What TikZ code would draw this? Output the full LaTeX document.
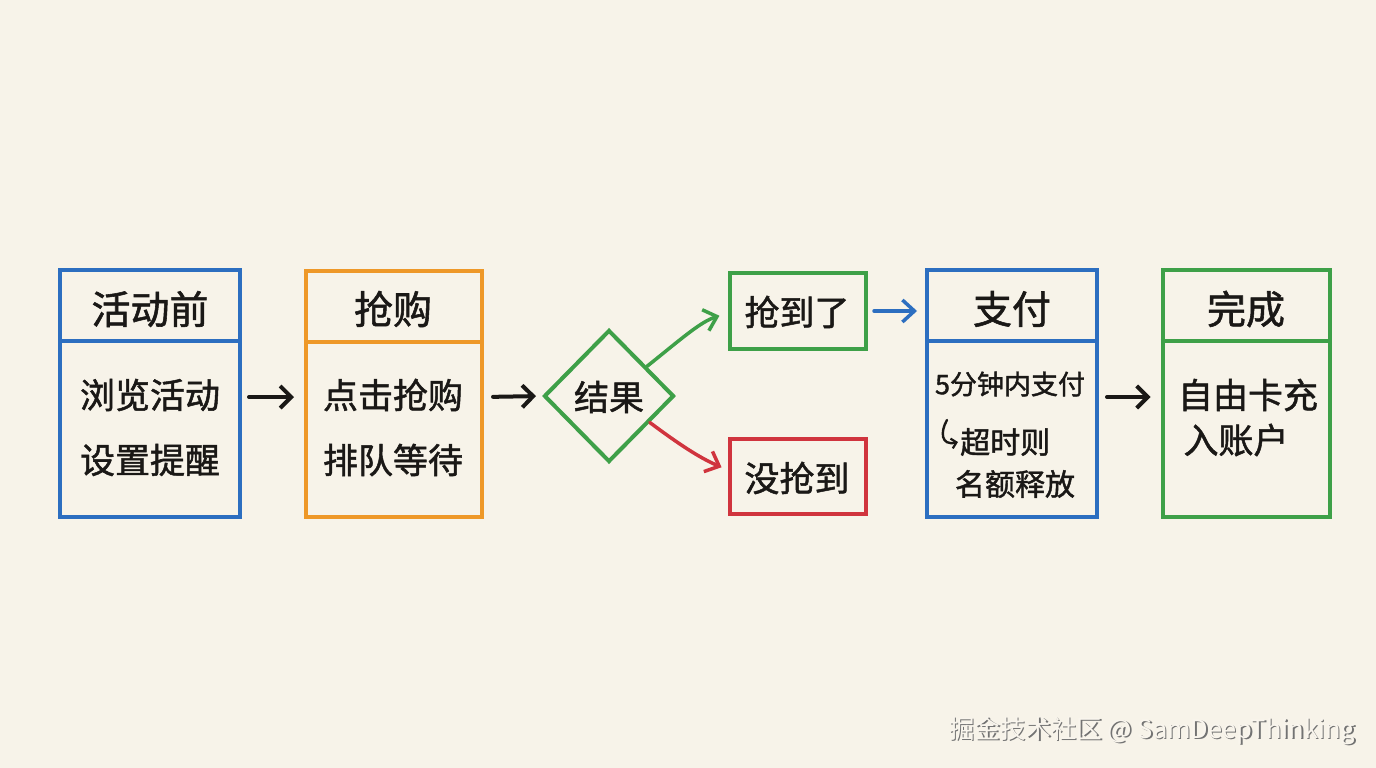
\documentclass[tikz,border=0pt]{standalone}
\usepackage{fontspec}
\setmainfont{Noto Sans CJK SC}
\newfontfamily\hand{Noto Sans CJK SC}[FakeBold=1.4]
\usetikzlibrary{shapes.geometric,arrows.meta}
\definecolor{bg}{RGB}{247,243,233}
\definecolor{cblue}{RGB}{44,110,192}
\definecolor{corange}{RGB}{238,152,40}
\definecolor{cgreen}{RGB}{62,160,72}
\definecolor{cred}{RGB}{208,52,62}
\definecolor{cink}{RGB}{26,24,22}
\tikzset{
  box/.style={draw=#1, line width=4pt, inner sep=0pt},
  divider/.style={draw=#1, line width=4pt},
  ttl/.style={text=cink, font=\hand\fontsize{39}{41}\selectfont, inner sep=0pt},
  body/.style={text=cink, font=\hand\fontsize{35}{37}\selectfont, inner sep=0pt},
  small/.style={text=cink, font=\hand\fontsize{30}{32}\selectfont, inner sep=0pt},
  flow/.style={draw=cink, line width=4pt, line cap=round, -{Straight Barb[length=11pt,width=22pt,line width=4pt]}},
  cflow/.style={draw=#1, line width=3.5pt, line cap=round, -{Straight Barb[length=12pt,width=22pt,line width=3.5pt]}},
}
\begin{document}
\begin{tikzpicture}[x=1pt,y=-1pt]
\fill[bg] (0,0) rectangle (1376,768);
\useasboundingbox (0,0) rectangle (1376,768);

% box 1
\node[box=cblue, minimum width=180pt, minimum height=247pt] (b1) at (150,393.5) {};
\draw[divider=cblue] (b1.west |- 0,341) -- (b1.east |- 0,341);
\node[ttl] (t1) at (150,309) {活动前};
\node[body] (p1a) at (150,395) {浏览活动};
\node[body] (p1b) at (150,460) {设置提醒};

% box 2
\node[box=corange, minimum width=176pt, minimum height=246pt] (b2) at (394,394) {};
\draw[divider=corange] (b2.west |- 0,342) -- (b2.east |- 0,342);
\node[ttl] (t2) at (393,309) {抢购};
\node[body] (p2a) at (393,395) {点击抢购};
\node[body] (p2b) at (393,460) {排队等待};

% decision
\node[diamond, draw=cgreen, line width=4pt, minimum width=130pt, minimum height=132pt, inner sep=0pt] (d) at (609,396) {};
\node[body] (dt) at (609,397) {结果};

% outcomes
\node[box=cgreen, minimum width=136pt, minimum height=76pt] (win) at (798,311) {};
\node[body] (wint) at (797,312) {抢到了};
\node[box=cred, minimum width=136pt, minimum height=75pt] (lose) at (798,476) {};
\node[body] (loset) at (797,478) {没抢到};

% box pay
\node[box=cblue, minimum width=170pt, minimum height=247pt] (b3) at (1012,393.5) {};
\draw[divider=cblue] (b3.west |- 0,341) -- (b3.east |- 0,341);
\node[ttl] (t3) at (1012,309) {支付};
\node[text=cink, font=\hand\fontsize{27}{29}\selectfont, inner sep=0pt] (p3a) at (1010,384) {5分钟内支付};
\node[small, anchor=west] (p3b) at (960,442) {超时则};
\node[small] (p3c) at (1015,484) {名额释放};
\coordinate (hk) at (947,420);
\draw[cink, line width=2.4pt, line cap=round, -{Straight Barb[length=5pt,width=10pt,line width=2.2pt]}]
  (hk) .. controls (940,432) and (941,446) .. ([xshift=-2pt]p3b.west);

% box done
\node[box=cgreen, minimum width=167pt, minimum height=247pt] (b4) at (1246,393.5) {};
\draw[divider=cgreen] (b4.west |- 0,341) -- (b4.east |- 0,341);
\node[ttl] (t4) at (1246,309) {完成};
\node[body] (p4a) at (1248,395) {自由卡充};
\node[body] (p4b) at (1236,440) {入账户};

% connectors
\draw[flow, shorten <=7pt, shorten >=10pt] (b1.east |- 0,397) -- (b2.west |- 0,397);
\draw[flow, shorten <=9pt, shorten >=6pt] (b2.east |- 0,397) -- (d.west);
\draw[cflow=cgreen, shorten >=9pt] (d.38) .. controls (680,340) and (700,322) .. (win.west |- 0,313);
\draw[cflow=cred, shorten >=7pt] (d.-33) .. controls (680,445) and (700,458) .. (lose.west |- 0,470);
\draw[cflow=cblue, shorten <=6pt, shorten >=8pt] (win.east) -- (b3.west |- win.east);
\draw[flow, shorten <=8pt, shorten >=10pt] (b3.east |- 0,397) -- (b4.west |- 0,397);

% watermark
\node[text=black!55, font=\fontsize{25.5}{27}\selectfont, inner sep=0pt, anchor=east] (wms) at (1356.8,731.8) {掘金技术社区 @ SamDeepThinking};
\node[text=bg!80!white, font=\fontsize{25.5}{27}\selectfont, inner sep=0pt, anchor=east] (wm) at (1355.5,730.5) {掘金技术社区 @ SamDeepThinking};
\end{tikzpicture}
\end{document}
